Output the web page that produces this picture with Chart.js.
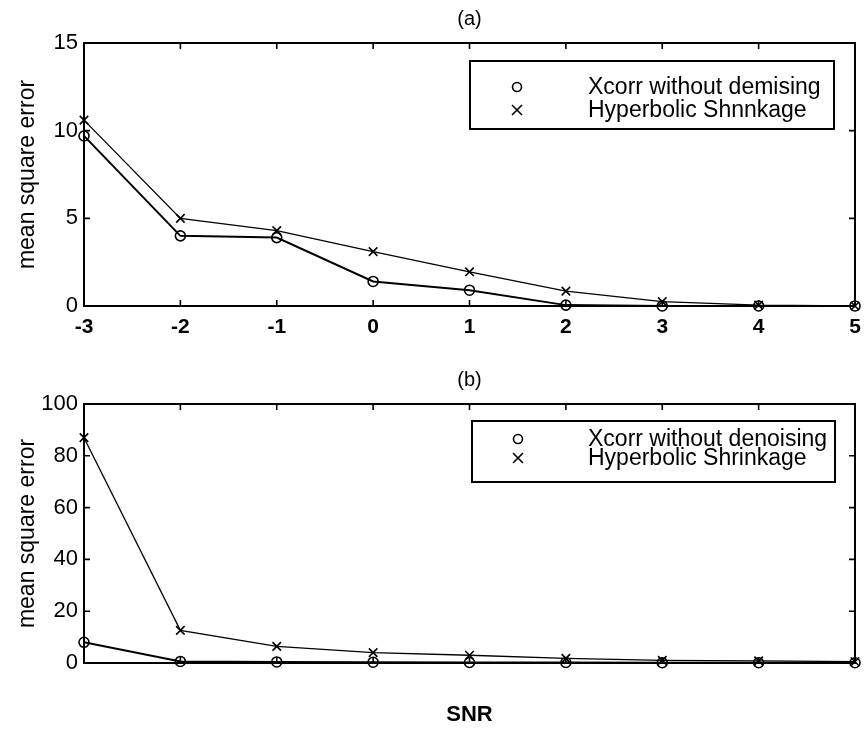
<!DOCTYPE html>
<html>
<head>
<meta charset="utf-8">
<script src="https://cdn.jsdelivr.net/npm/chart.js@4/dist/chart.umd.min.js"></script>
<style>
  html, body { margin: 0; padding: 0; background: #fff; }
  #wrap { position: relative; width: 865px; height: 731px; }
  #wrapA { position: absolute; left: 0; top: 0; width: 865px; height: 340px; }
  #wrapB { position: absolute; left: 0; top: 340px; width: 865px; height: 391px; }
</style>
</head>
<body>
<div id="wrap">
  <div id="wrapA"><canvas id="chartA"></canvas></div>
  <div id="wrapB"><canvas id="chartB"></canvas></div>
</div>
<script>
// ---- data ----
const snr = [-3, -2, -1, 0, 1, 2, 3, 4, 5];
const xcorrA = [9.7, 4.0, 3.9, 1.4, 0.9, 0.05, 0.0, 0.0, 0.0];
const hyperA = [10.6, 5.0, 4.3, 3.1, 1.95, 0.85, 0.25, 0.05, 0.0];
const xcorrB = [8.0, 0.6, 0.4, 0.3, 0.2, 0.2, 0.1, 0.1, 0.1];
const hyperB = [87, 12.6, 6.4, 4.0, 3.0, 1.8, 1.0, 0.8, 0.5];
const yTicksA = [0, 5, 10, 15];
const yTicksB = [0, 20, 40, 60, 80, 100];
const labelsA = ['Xcorr without demising', 'Hyperbolic Shnnkage'];
const labelsB = ['Xcorr without denoising', 'Hyperbolic Shrinkage'];
const yTitle = 'mean square error';
const xTitle = 'SNR';

const FONT = "'Liberation Sans', Arial, Helvetica, sans-serif";

// frame + inward ticks
const framePlugin = {
  id: 'frame',
  afterDatasetsDraw(chart) {
    const { ctx, chartArea: a, scales } = chart;
    const len = 6;
    ctx.save();
    ctx.strokeStyle = '#000';
    ctx.lineWidth = 1.6;
    ctx.beginPath();
    scales.x.ticks.forEach(t => {
      const px = scales.x.getPixelForValue(t.value);
      if (px <= a.left + 1 || px >= a.right - 1) return;
      ctx.moveTo(px, a.bottom); ctx.lineTo(px, a.bottom - len);
      ctx.moveTo(px, a.top); ctx.lineTo(px, a.top + len);
    });
    scales.y.ticks.forEach(t => {
      const py = scales.y.getPixelForValue(t.value);
      if (py <= a.top + 1 || py >= a.bottom - 1) return;
      ctx.moveTo(a.left, py); ctx.lineTo(a.left + len, py);
      ctx.moveTo(a.right, py); ctx.lineTo(a.right - len, py);
    });
    ctx.stroke();
    ctx.lineWidth = 2;
    ctx.strokeRect(a.left, a.top, a.right - a.left, a.bottom - a.top);
    ctx.restore();
  }
};

// legend box inside plot
const boxLegendPlugin = {
  id: 'boxLegend',
  afterDraw(chart, args, o) {
    const { ctx, chartArea: a } = chart;
    const right = a.right - o.offsetRight;
    const left = right - o.width;
    const top = a.top + o.offsetTop;
    ctx.save();
    ctx.fillStyle = '#fff';
    ctx.fillRect(left, top, o.width, o.height);
    ctx.strokeStyle = '#000';
    ctx.lineWidth = 2;
    ctx.strokeRect(left, top, o.width, o.height);
    chart.data.datasets.forEach((ds, i) => {
      const y = top + o.rowY[i];
      const mx = left + o.markerX;
      ctx.lineWidth = 1.6;
      ctx.beginPath();
      if (ds.pointStyle === 'circle') {
        ctx.arc(mx, y, 4.5, 0, Math.PI * 2);
      } else {
        ctx.moveTo(mx - 5, y - 5); ctx.lineTo(mx + 5, y + 5);
        ctx.moveTo(mx + 5, y - 5); ctx.lineTo(mx - 5, y + 5);
      }
      ctx.stroke();
      ctx.fillStyle = '#000';
      ctx.font = o.font;
      ctx.textBaseline = 'middle';
      ctx.textAlign = 'left';
      ctx.fillText(ds.label, left + o.textX, y + 1, o.maxText[i]);
    });
    ctx.restore();
  }
};

function makeDatasets(xc, hy, labels) {
  return [
    {
      label: labels[0],
      data: snr.map((x, i) => ({ x, y: xc[i] })),
      borderColor: '#000', borderWidth: 2,
      pointStyle: 'circle', pointRadius: 5, pointBorderWidth: 1.6,
      pointBackgroundColor: 'rgba(0,0,0,0)', pointBorderColor: '#000',
      tension: 0, clip: false
    },
    {
      label: labels[1],
      data: snr.map((x, i) => ({ x, y: hy[i] })),
      borderColor: '#000', borderWidth: 1.3,
      pointStyle: 'crossRot', pointRadius: 6, pointBorderWidth: 1.6,
      pointBorderColor: '#000',
      tension: 0, clip: false
    }
  ];
}

function makeOptions(cfg) {
  return {
    responsive: false,
    animation: false,
    devicePixelRatio: 1,
    layout: { padding: { left: 0, right: 10, top: 0, bottom: 0 } },
    plugins: {
      legend: { display: false },
      tooltip: { enabled: false },
      title: {
        display: true, text: cfg.title, fullSize: false,
        color: '#000', font: { family: FONT, size: 20, weight: 'normal' },
        padding: cfg.titlePad
      },
      boxLegend: cfg.legend
    },
    scales: {
      x: {
        type: 'linear', min: -3, max: 5,
        afterBuildTicks: s => { s.ticks = snr.map(v => ({ value: v })); },
        afterFit: s => { s.height = cfg.xHeight; s.paddingLeft = 0; s.paddingRight = 0; },
        grid: { display: false, drawTicks: false },
        border: { display: false },
        ticks: {
          display: cfg.xLabels, color: '#000', padding: 9,
          font: { family: FONT, size: 21, weight: 'bold' },
          maxRotation: 0, autoSkip: false
        },
        title: {
          display: cfg.xTitle, text: xTitle, color: '#000',
          font: { family: FONT, size: 22, weight: 'bold' },
          padding: { top: 0, bottom: 3 }
        }
      },
      y: {
        type: 'linear', min: 0, max: cfg.yMax,
        afterBuildTicks: s => { s.ticks = cfg.yTicks.map(v => ({ value: v })); },
        afterFit: s => { s.width = 84; },
        grid: { display: false, drawTicks: false },
        border: { display: false },
        ticks: {
          color: '#000', padding: 6,
          font: { family: FONT, size: 22 }
        },
        title: {
          display: true, text: yTitle, color: '#000',
          font: { family: FONT, size: 23 },
          padding: { top: 14, bottom: 0 }
        }
      }
    }
  };
}

const cA = document.getElementById('chartA');
cA.width = 865; cA.height = 340;
new Chart(cA, {
  type: 'line',
  data: { datasets: makeDatasets(xcorrA, hyperA, labelsA) },
  options: makeOptions({
    title: '(a)', titlePad: { top: 7, bottom: 12 },
    xHeight: 34, xLabels: true, xTitle: false,
    yMax: 15, yTicks: yTicksA,
    legend: { offsetRight: 21, offsetTop: 18, width: 364, height: 68,
              rowY: [26, 49], markerX: 47, textX: 118,
              font: "23px " + FONT, maxText: [240, 240] }
  }),
  plugins: [framePlugin, boxLegendPlugin]
});

const cB = document.getElementById('chartB');
cB.width = 865; cB.height = 391;
new Chart(cB, {
  type: 'line',
  data: { datasets: makeDatasets(xcorrB, hyperB, labelsB) },
  options: makeOptions({
    title: '(b)', titlePad: { top: 28, bottom: 12 },
    xHeight: 68, xLabels: false, xTitle: true,
    yMax: 100, yTicks: yTicksB,
    legend: { offsetRight: 20, offsetTop: 17, width: 363, height: 61,
              rowY: [18, 37], markerX: 46, textX: 116,
              font: "23px " + FONT, maxText: [246, 246] }
  }),
  plugins: [framePlugin, boxLegendPlugin]
});
</script>
</body>
</html>
